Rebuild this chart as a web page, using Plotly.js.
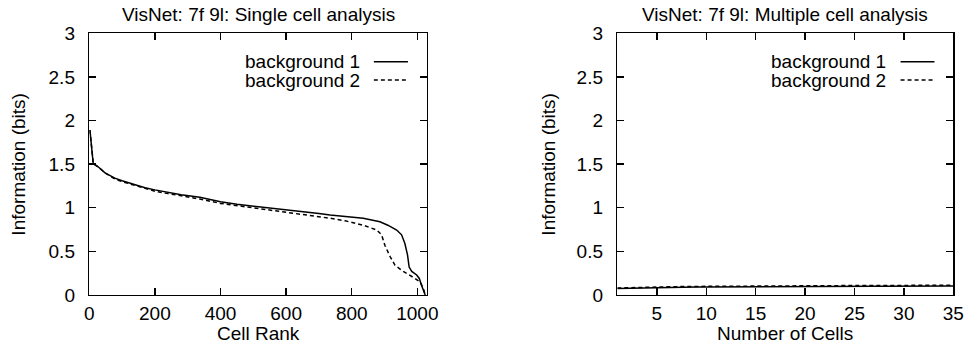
<!DOCTYPE html>
<html>
<head>
<meta charset="utf-8">
<script src="https://cdn.plot.ly/plotly-3.0.1.min.js"></script>
<style>html,body{margin:0;padding:0;background:#fff;}#chart{width:964px;height:346px;}</style>
</head>
<body>
<div id="chart"></div>
<script>
// Left panel: single cell analysis (cell rank vs information)
var rankBg1 = [2, 4, 7, 10, 12, 18, 27, 48, 78, 100, 134, 170, 200, 236, 280, 337, 400, 450, 500, 550, 600, 650, 700, 734, 780, 835, 886, 910, 937, 952, 962, 970, 975, 983, 998, 1006, 1013, 1020, 1024];
var infoBg1 = [1.89, 1.82, 1.74, 1.6, 1.51, 1.49, 1.47, 1.40, 1.34, 1.31, 1.27, 1.23, 1.205, 1.18, 1.15, 1.12, 1.07, 1.04, 1.02, 1.0, 0.975, 0.955, 0.935, 0.917, 0.9, 0.88, 0.84, 0.80, 0.745, 0.69, 0.59, 0.46, 0.32, 0.27, 0.23, 0.19, 0.11, 0.04, 0.0];
var rankBg2 = [2, 4, 7, 10, 12, 18, 27, 48, 78, 100, 134, 170, 200, 236, 280, 337, 400, 450, 500, 550, 600, 650, 700, 734, 780, 835, 876, 891, 901, 917, 932, 957, 993, 1008, 1018, 1024];
var infoBg2 = [1.89, 1.82, 1.74, 1.6, 1.51, 1.49, 1.47, 1.40, 1.33, 1.30, 1.26, 1.22, 1.19, 1.165, 1.14, 1.10, 1.05, 1.025, 1.0, 0.975, 0.95, 0.93, 0.905, 0.88, 0.85, 0.80, 0.745, 0.69, 0.57, 0.44, 0.34, 0.27, 0.19, 0.15, 0.08, 0.0];

// Right panel: multiple cell analysis (number of cells vs information)
var nCells = [1, 2, 3, 4, 5, 6, 7, 8, 9, 10, 11, 12, 13, 14, 15, 16, 17, 18, 19, 20, 21, 22, 23, 24, 25, 26, 27, 28, 29, 30, 31, 32, 33, 34, 35];
var multiBg1 = [0.075, 0.078, 0.081, 0.083, 0.085, 0.087, 0.089, 0.09, 0.091, 0.092, 0.093, 0.094, 0.095, 0.095, 0.096, 0.096, 0.097, 0.097, 0.098, 0.098, 0.099, 0.099, 0.1, 0.1, 0.1, 0.101, 0.101, 0.101, 0.102, 0.102, 0.102, 0.103, 0.103, 0.103, 0.104];
var multiBg2 = [0.08, 0.084, 0.087, 0.09, 0.092, 0.094, 0.096, 0.098, 0.099, 0.1, 0.101, 0.102, 0.103, 0.104, 0.104, 0.105, 0.105, 0.106, 0.106, 0.107, 0.107, 0.108, 0.108, 0.108, 0.109, 0.109, 0.109, 0.11, 0.11, 0.11, 0.111, 0.111, 0.111, 0.112, 0.112];

var seriesNames = ['background 1', 'background 2'];
var panelTitles = ['VisNet: 7f 9l: Single cell analysis', 'VisNet: 7f 9l: Multiple cell analysis'];
var xTitles = ['Cell Rank', 'Number of Cells'];
var yTitle = 'Information (bits)';
var leftXTicks = [0, 200, 400, 600, 800, 1000];
var rightXTicks = [5, 10, 15, 20, 25, 30, 35];
var yTicks = [0, 0.5, 1, 1.5, 2, 2.5, 3];
var yTickText = ['0', '0.5', '1', '1.5', '2', '2.5', '3'];

var FONT = 'Liberation Sans, Arial, Helvetica, sans-serif';
var FS = 19;
var solid = {color: '#000', width: 1.5, dash: 'solid'};
var dashed = {color: '#000', width: 1.5, dash: '4px,3px'};

var traces = [
  {x: rankBg1, y: infoBg1, xaxis: 'x', yaxis: 'y', mode: 'lines', name: seriesNames[0], line: solid},
  {x: rankBg2, y: infoBg2, xaxis: 'x', yaxis: 'y', mode: 'lines', name: seriesNames[1], line: dashed},
  {x: nCells, y: multiBg1, xaxis: 'x2', yaxis: 'y2', mode: 'lines', name: seriesNames[0], line: solid},
  {x: nCells, y: multiBg2, xaxis: 'x2', yaxis: 'y2', mode: 'lines', name: seriesNames[1], line: dashed}
];

function xAxis(domain, range, ticks, anchor) {
  return {
    domain: domain, range: range, anchor: anchor,
    tickmode: 'array', tickvals: ticks, ticktext: ticks.map(String),
    ticks: 'inside', ticklen: 7, tickwidth: 1.3, tickcolor: '#000',
    showline: true, linecolor: '#000', linewidth: 1.5, mirror: 'ticks',
    showgrid: false, zeroline: false,
    tickfont: {family: FONT, size: FS, color: '#000'},
    ticklabelstandoff: 1,
    automargin: false
  };
}
function yAxis(domain, anchor) {
  return {
    domain: domain, range: [0, 3], anchor: anchor,
    tickmode: 'array', tickvals: yTicks, ticktext: yTickText,
    ticks: 'inside', ticklen: 7, tickwidth: 1.3, tickcolor: '#000',
    showline: true, linecolor: '#000', linewidth: 1.5, mirror: 'ticks',
    showgrid: false, zeroline: false,
    tickfont: {family: FONT, size: FS, color: '#000'},
    ticklabelstandoff: 9,
    automargin: false
  };
}

var yDom = [0.1474, 0.9038];
var annotations = [];
var shapes = [];
var yTitleX = [18.5 / 964, 548.5 / 964];
[['x', 'y'], ['x2', 'y2']].forEach(function (ax, i) {
  annotations.push({
    text: panelTitles[i], xref: ax[0] + ' domain', yref: 'paper', x: 0.5, y: 1 - 15 / 346,
    xanchor: 'center', yanchor: 'middle', showarrow: false,
    font: {family: FONT, size: FS, color: '#000'}
  });
  annotations.push({
    text: xTitles[i], xref: ax[0] + ' domain', yref: 'paper', x: 0.5, y: 1 - 333 / 346,
    xanchor: 'center', yanchor: 'middle', showarrow: false,
    font: {family: FONT, size: FS, color: '#000'}
  });
  annotations.push({
    text: yTitle, xref: 'paper', yref: ax[1] + ' domain', x: yTitleX[i], y: 0.5, textangle: -90,
    xanchor: 'center', yanchor: 'middle', showarrow: false,
    font: {family: FONT, size: FS, color: '#000'}
  });
  [0.8915, 0.8215].forEach(function (yy, k) {
    annotations.push({
      text: seriesNames[k], xref: ax[0] + ' domain', yref: ax[1] + ' domain', x: 0.807, y: yy,
      xanchor: 'right', yanchor: 'middle', showarrow: false,
      font: {family: FONT, size: FS, color: '#000'}
    });
    shapes.push({
      type: 'line', xref: ax[0] + ' domain', yref: ax[1] + ' domain',
      x0: 0.843, x1: 0.944, y0: yy, y1: yy,
      line: k === 0 ? {color: '#000', width: 1.5} : {color: '#000', width: 1.5, dash: '4px,3px'}
    });
  });
});

var layout = {
  width: 964, height: 346,
  margin: {l: 0, r: 0, t: 0, b: 0},
  paper_bgcolor: '#fff', plot_bgcolor: '#fff',
  showlegend: false,
  font: {family: FONT, size: FS, color: '#000'},
  xaxis: xAxis([0.0926, 0.4428], [0, 1029], leftXTicks, 'y'),
  yaxis: yAxis(yDom, 'x'),
  xaxis2: xAxis([0.6404, 0.9889], [1, 35], rightXTicks, 'y2'),
  yaxis2: yAxis(yDom, 'x2'),
  annotations: annotations,
  shapes: shapes
};

Plotly.newPlot('chart', traces, layout, {staticPlot: true, displayModeBar: false});
</script>
</body>
</html>
